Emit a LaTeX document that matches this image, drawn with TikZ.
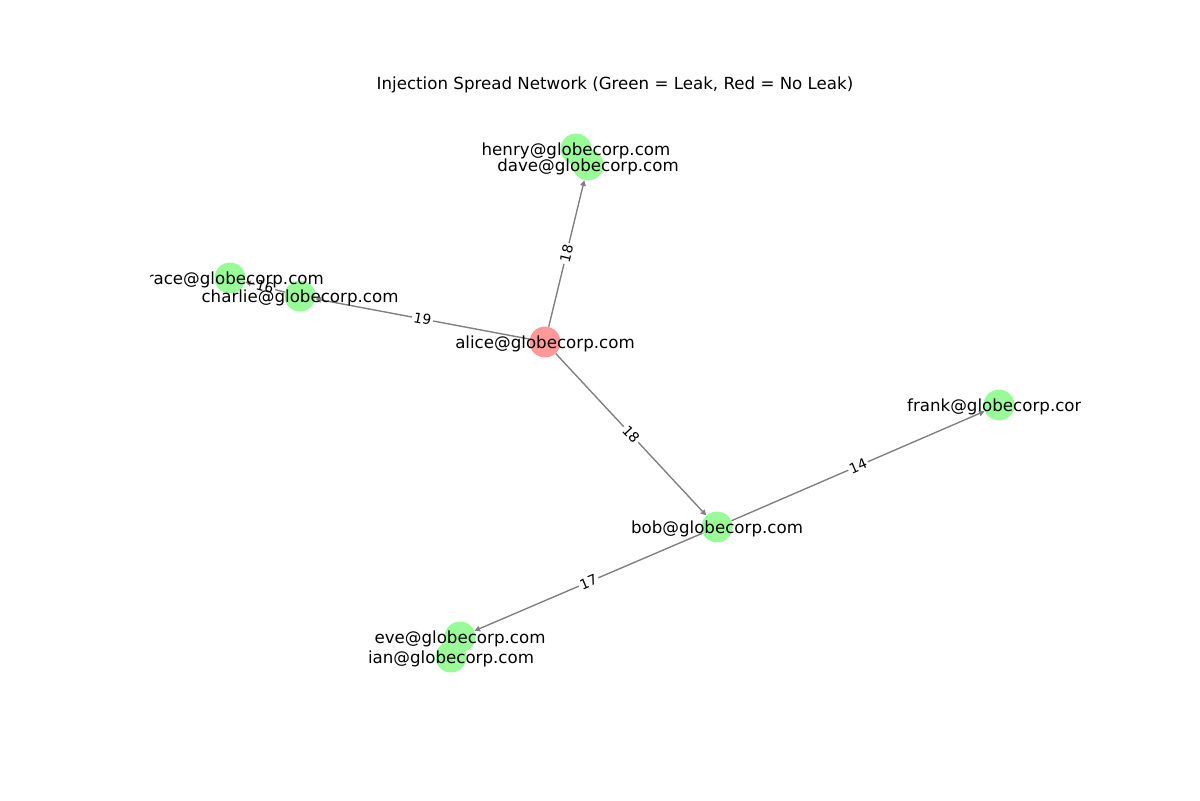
\documentclass[tikz,border=0pt]{standalone}
\usepackage{fontspec}
\setmainfont{DejaVu Sans}
\usetikzlibrary{arrows.meta}
\definecolor{leakgreen}{RGB}{152,251,152}
\definecolor{noleakred}{RGB}{255,153,153}
\pgfdeclarelayer{background}
\pgfsetlayers{background,main}

\begin{document}
\begin{tikzpicture}[x=0.72pt,y=-0.72pt]

  \tikzset{leak node/.style={circle, fill=leakgreen,
  		minimum size=22.3pt, inner sep=0pt}, }
  \tikzset{noleak node/.style={circle, fill=noleakred,
  		minimum size=22.3pt, inner sep=0pt}, }
  \tikzset{name node/.style={inner sep=0pt, yshift=-1.2pt,
  		font=\fontsize{12}{14}\selectfont}, }
  \tikzset{weight node/.style={fill=white, text=black, inner sep=1.2pt, sloped,
  		rounded corners=1pt, font=\fontsize{10}{12}\selectfont}, }
  \tikzset{linea/.style={-{Triangle[length=4pt,width=4pt]}, gray, line width=1pt}, }
\useasboundingbox (0,0) rectangle (1200,800);
\node[name node] (title) at (615,83) {Injection Spread Network (Green = Leak, Red = No Leak)};
\node[noleak node] (alice)   at (545,342) {};
\node[leak node]   (henry)   at (576,149) {};
\node[leak node]   (dave)    at (588,165) {};
\node[leak node]   (grace)   at (230,278) {};
\node[leak node]   (charlie) at (300,296) {};
\node[leak node]   (frank)   at (999,405) {};
\node[leak node]   (bob)     at (717,527) {};
\node[leak node]   (eve)     at (460,637) {};
\node[leak node]   (ian)     at (451,657) {};
\begin{pgfonlayer}{background}
\foreach \x /\y /\w in{alice/dave/18,alice/charlie/19,alice/bob/18,charlie/grace/16,bob/frank/14,bob/eve/17}
  \path[linea] (\x) edge node[weight node] {\w} (\y);
\end{pgfonlayer}
%% names, clipped to the axes
\begin{scope}
\clip (150,96) rectangle (1080,712);
\foreach \n /\p in{henry/{576,149},dave/{588,165},grace/{230,278},charlie/{300,296},alice/{545,342},frank/{999,405},bob/{717,527},eve/{460,637},ian/{451,657}}
  \node[name node] (\n-t) at (\p) {\n @globecorp.com};
\end{scope}
\end{tikzpicture}
\end{document}
